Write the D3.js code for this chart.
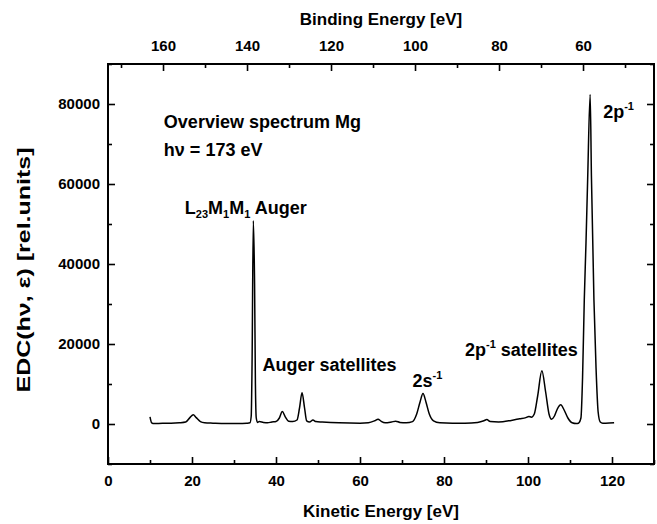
<!DOCTYPE html>
<html>
<head>
<meta charset="utf-8">
<script src="https://cdn.jsdelivr.net/npm/d3@7"></script>
<style>
  body { margin: 0; background: #fff; }
  svg text { font-family: "Liberation Sans", Arial, sans-serif; font-weight: bold; fill: #000; }
</style>
</head>
<body>
<div id="chart"></div>
<script>
// spectrum: kinetic energy [eV] and EDC [rel. units]
const kineticEnergy = [
  10.0, 10.4, 11.0, 13.0, 15.0, 17.0, 18.5, 19.5, 20.3, 21.0, 22.0, 23.0, 25.0, 28.0, 31.0,
  33.0, 33.8, 34.1, 34.3, 34.6, 34.9, 35.1, 35.3, 35.6, 36.0, 37.0, 38.0, 39.0, 40.0,
  40.8, 41.5, 42.2, 43.0, 44.0, 45.0, 45.6, 46.2, 46.8, 47.3, 48.0, 48.8, 49.5, 51.0,
  55.0, 60.0, 62.0, 63.5, 64.3, 65.0, 66.0, 67.5, 68.5, 69.5, 71.0, 72.5, 73.5, 74.3,
  75.0, 75.7, 76.5, 77.5, 79.0, 82.0, 85.0, 88.0, 89.5, 90.2, 91.0, 93.0, 96.0, 98.0,
  99.5, 100.2, 100.8, 101.5, 102.3, 103.3, 104.2, 105.0, 105.6, 106.3, 107.0, 107.8,
  108.6, 109.5, 110.5, 111.5, 112.0, 112.6, 113.0, 113.4, 113.8, 114.2, 114.8, 115.1,
  115.7, 116.2, 116.7, 117.2, 117.8, 118.5, 120.5
];
const edcCounts = [
  1800, 300, 100, 200, 200, 300, 500, 1600, 2300, 1600, 600, 300, 200, 100, 100,
  200, 300, 2000, 15000, 50800, 35000, 10000, 1500, 400, 600, 400, 300, 500, 600,
  1500, 3100, 1800, 700, 600, 1000, 4000, 7800, 4000, 800, 500, 1000, 600, 500,
  300, 200, 300, 800, 1200, 700, 300, 500, 700, 400, 300, 600, 2500, 5500,
  7600, 5500, 2500, 800, 300, 200, 200, 400, 800, 1100, 600, 500, 900, 1300,
  1600, 1900, 1700, 2500, 7000, 13300, 8000, 2500, 1200, 2000, 3800, 4800,
  3500, 1500, 300, 100, 200, 1500, 12000, 31000, 45000, 61000, 82400, 62000,
  31000, 14000, 3000, 500, 200, 200, 300
];

const keTicks      = [0, 20, 40, 60, 80, 100, 120];
const keMinorTicks = [10, 30, 50, 70, 90, 110, 130];
const beTicks      = [160, 140, 120, 100, 80, 60];
const beMinorTicks = [170, 150, 130, 110, 90, 70, 50];
const yTicks       = [0, 20000, 40000, 60000, 80000];
const yMinorTicks  = [-10000, 10000, 30000, 50000, 70000, 90000];

const photonEnergy = 173.1;  // BE = photonEnergy - KE, as on the top axis

const widthContainer  = 657;
const heightContainer = 524;
const margin = {top: 64, right: 3, bottom: 60, left: 108};
const widthGraph  = widthContainer  - margin.left - margin.right;
const heightGraph = heightContainer - margin.top  - margin.bottom;

const svg = d3.select('#chart')
  .append('svg')
  .attr('width',  widthContainer)
  .attr('height', heightContainer);

const g = svg.append('g')
  .attr('transform', `translate(${margin.left}, ${margin.top})`);

const xScale = d3.scaleLinear().domain([0, 130]).range([0, widthGraph]);
const bScale = d3.scaleLinear().domain([photonEnergy, photonEnergy - 130]).range([0, widthGraph]);
const yScale = d3.scaleLinear().domain([-10000, 90000]).range([heightGraph, 0]);

const majorTick = 7;
const minorTick = 4;

function styleAxis(sel, size) {
  sel.select('.domain').remove();
  sel.selectAll('.tick line').attr('stroke', '#000').attr('stroke-width', 1.6);
  sel.selectAll('.tick text').style('font-size', size + 'px');
}

// bottom axis
g.append('g')
  .attr('transform', `translate(0, ${heightGraph})`)
  .call(d3.axisBottom(xScale).tickValues(keTicks).tickFormat(d3.format('d'))
    .tickSize(-majorTick).tickPadding(11))
  .call(s => styleAxis(s, 15));
g.append('g')
  .attr('transform', `translate(0, ${heightGraph})`)
  .call(d3.axisBottom(xScale).tickValues(keMinorTicks).tickFormat('').tickSize(-minorTick))
  .call(s => styleAxis(s, 15));

// top axis (binding energy)
g.append('g')
  .call(d3.axisTop(bScale).tickValues(beTicks).tickFormat(d3.format('d'))
    .tickSize(-majorTick).tickPadding(13))
  .call(s => styleAxis(s, 15));
g.append('g')
  .call(d3.axisTop(bScale).tickValues(beMinorTicks).tickFormat('').tickSize(-minorTick))
  .call(s => styleAxis(s, 15));

// left axis
g.append('g')
  .call(d3.axisLeft(yScale).tickValues(yTicks).tickFormat(d3.format('d'))
    .tickSize(-majorTick).tickPadding(8))
  .call(s => styleAxis(s, 15));
g.append('g')
  .call(d3.axisLeft(yScale).tickValues(yMinorTicks).tickFormat('').tickSize(-minorTick))
  .call(s => styleAxis(s, 15));

// right axis, ticks only
g.append('g')
  .attr('transform', `translate(${widthGraph}, 0)`)
  .call(d3.axisRight(yScale).tickValues(yTicks).tickFormat('').tickSize(-majorTick))
  .call(s => styleAxis(s, 15));
g.append('g')
  .attr('transform', `translate(${widthGraph}, 0)`)
  .call(d3.axisRight(yScale).tickValues(yMinorTicks).tickFormat('').tickSize(-minorTick))
  .call(s => styleAxis(s, 15));

// frame
g.append('rect')
  .attr('width', widthGraph)
  .attr('height', heightGraph)
  .attr('fill', 'none')
  .attr('stroke', '#000')
  .attr('stroke-width', 2);

// spectrum
const points = kineticEnergy.map((k, i) => [k, edcCounts[i]]);
const line = d3.line()
  .x(d => xScale(d[0]))
  .y(d => yScale(d[1]))
  .curve(d3.curveMonotoneX);

g.append('path')
  .datum(points)
  .attr('fill', 'none')
  .attr('stroke', '#000')
  .attr('stroke-width', 1.5)
  .attr('stroke-linejoin', 'round')
  .attr('d', line);

// axis titles
svg.append('text')
  .attr('x', margin.left + widthGraph / 2)
  .attr('y', 25)
  .attr('text-anchor', 'middle')
  .style('font-size', '17px')
  .text('Binding Energy [eV]');

svg.append('text')
  .attr('x', margin.left + widthGraph / 2)
  .attr('y', 517)
  .attr('text-anchor', 'middle')
  .style('font-size', '17px')
  .text('Kinetic Energy [eV]');

svg.append('text')
  .attr('transform', `translate(30, 270) rotate(-90)`)
  .attr('text-anchor', 'middle')
  .attr('textLength', 245)
  .attr('lengthAdjust', 'spacingAndGlyphs')
  .style('font-size', '19px')
  .text('EDC(hν, ε) [rel.units]');

// annotations: parts are [text, shift] where shift is 'sub', 'sup' or ''
function label(ke, value, parts) {
  const t = g.append('text')
    .attr('x', xScale(ke))
    .attr('y', yScale(value))
    .style('font-size', '18px');
  parts.forEach(([str, shift]) => {
    const span = t.append('tspan').text(str);
    if (shift === 'sub') span.style('font-size', '11px').attr('dy', 4);
    if (shift === 'sup') span.style('font-size', '11px').attr('dy', -8);
    if (shift === 'back-sub') span.attr('dy', -4);
    if (shift === 'back-sup') span.attr('dy', 8);
  });
}

label(13.3, 74000, [['Overview spectrum Mg', '']]);
label(13.3, 67000, [['hν = 173 eV', '']]);
label(18.3, 52600, [['L', ''], ['23', 'sub'], ['M', 'back-sub'], ['1', 'sub'], ['M', 'back-sub'], ['1', 'sub'], [' Auger', 'back-sub']]);
label(36.8, 13300, [['Auger satellites', '']]);
label(72.5, 9300, [['2s', ''], ['-1', 'sup']]);
label(85.0, 17100, [['2p', ''], ['-1', 'sup'], [' satellites', 'back-sup']]);
label(117.9, 76500, [['2p', ''], ['-1', 'sup']]);
</script>
</body>
</html>
